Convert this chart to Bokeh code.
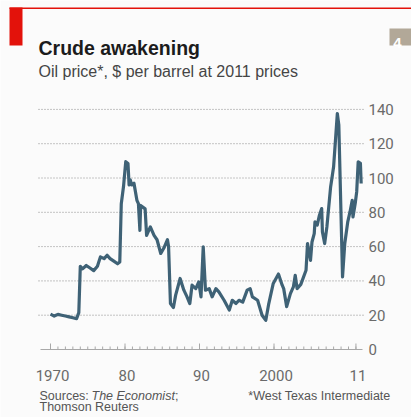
from bokeh.plotting import figure
from bokeh.models import Range1d
from bokeh.core.properties import value
from bokeh.embed import file_html
from bokeh.resources import INLINE

# ---- data ----
years = [1970.0, 1970.5, 1971.0, 1971.5, 1972.0, 1972.5, 1973.0, 1973.5, 1973.8,
         1974.0, 1974.3, 1974.8, 1975.3, 1975.8, 1976.3, 1976.7, 1977.2, 1977.6,
         1978.0, 1978.5, 1979.0, 1979.3, 1979.5, 1979.8, 1980.1, 1980.4, 1980.55,
         1980.7, 1980.9, 1981.2, 1981.6, 1981.8, 1982.0, 1982.1, 1982.7, 1982.9,
         1983.4, 1983.9, 1984.3, 1984.8, 1985.2, 1985.7, 1985.85, 1986.1, 1986.5,
         1986.8, 1987.4, 1987.9, 1988.3, 1988.7, 1989.0, 1989.5, 1989.9, 1990.2,
         1990.5, 1990.8, 1991.3, 1991.7, 1992.2, 1992.6, 1993.3, 1994.0, 1994.4,
         1994.9, 1995.3, 1995.8, 1996.4, 1996.8, 1997.1, 1997.8, 1998.4, 1998.9,
         1999.3, 1999.9, 2000.6, 2001.1, 2001.3, 2001.7, 2002.2, 2002.6, 2002.85,
         2003.1, 2003.6, 2004.3, 2004.5, 2004.9, 2005.1, 2005.4, 2005.5, 2005.8,
         2006.1, 2006.4, 2006.5, 2006.8, 2007.1, 2007.6, 2007.8, 2008.0, 2008.5,
         2008.7, 2009.2, 2009.5, 2009.9, 2010.2, 2010.5, 2010.6, 2010.9, 2011.1,
         2011.3, 2011.6, 2011.7]
prices = [20.6, 19.5, 20.5, 20.0, 19.5, 19.0, 18.5, 18.0, 21.5,
          48.5, 47.0, 49.0, 47.5, 46.0, 48.5, 54.0, 53.0, 55.0,
          53.0, 51.5, 50.0, 51.0, 85.0, 95.0, 109.5, 108.5, 96.0,
          99.0, 96.0, 97.0, 87.0, 85.0, 69.5, 84.0, 82.0, 66.5,
          71.5, 66.5, 64.0, 56.0, 59.0, 64.0, 60.0, 26.8, 24.5,
          31.7, 41.4, 34.6, 31.0, 26.8, 37.5, 35.5, 39.4, 30.7,
          59.8, 34.6, 35.5, 30.7, 35.5, 33.6, 28.7, 23.0, 28.7,
          26.8, 28.7, 27.6, 34.6, 35.5, 30.7, 28.7, 20.0, 17.0,
          26.8, 38.5, 44.0, 37.5, 35.5, 25.0, 32.6, 36.5, 43.3,
          35.5, 38.0, 46.2, 61.8, 52.0, 62.7, 67.6, 74.4, 72.5,
          78.3, 82.2, 68.6, 61.8, 71.5, 94.8, 100.6, 106.5, 137.6,
          131.0, 42.3, 61.8, 74.4, 80.2, 87.0, 77.3, 85.1, 91.9,
          109.4, 108.5, 96.8]

x_ticks = [1970, 1980, 1990, 2000, 2011]
x_tick_labels = ["1970", "80", "90", "2000", "11"]
x_minor_ticks = list(range(1970, 2012))
y_ticks = [0, 20, 40, 60, 80, 100, 120, 140]
y_tick_labels = [str(t) for t in y_ticks]

title_text = "Crude awakening"
subtitle_text = "Oil price*, $ per barrel at 2011 prices"
source_a = "Sources:"
source_b = "The Economist"
source_c = ";"
source_d = "Thomson Reuters"
note_text = "*West Texas Intermediate"
chart_no = "4"

# ---- styles ----
BG = "#fbfbfb"
RED = "#e3120b"
LINE = "#3f6276"
GRID = "#8c8c8c"
AXIS = "#a8a8a8"
TICK_TXT = "#6a6a6a"
FOOT = "#555555"
TICKFONT = "Roboto"
SANS = "Liberation Sans"

W, H = 411, 417
# layout of the chart in page pixels
X0_PX, X_PER_YEAR = 50.0, 7.45      # 1970 sits at x=50, 7.45 px per year
Y0_PX, Y_PER_UNIT = 349.0, 1.715    # $0 sits at y=349, 1.715 px per dollar


def X(px):
    return 1970 + (px - X0_PX) / X_PER_YEAR


def Y(py):
    return (Y0_PX - py) / Y_PER_UNIT


p = figure(width=W, height=H, output_backend="svg", toolbar_location=None,
           x_range=Range1d(X(0), X(W)), y_range=Range1d(Y(H), Y(0)),
           x_axis_location=None, y_axis_location=None,
           min_border=0, min_border_left=0, min_border_right=0,
           min_border_top=0, min_border_bottom=0)
p.background_fill_color = BG
p.border_fill_color = BG
p.outline_line_color = None
p.grid.visible = False


def txt(s, px, py, size, color, font=SANS, style="normal", align="left"):
    p.text(x=[X(px)], y=[Y(py)], text=[s], text_font=value(font), text_font_size=size,
           text_font_style=style, text_color=color, text_align=align,
           text_baseline="alphabetic")


def rect(l, r, t, b, color):
    p.quad(left=[X(l)], right=[X(r)], top=[Y(t)], bottom=[Y(b)],
           fill_color=color, line_color=None)


# ---- header ----
rect(9, W, 7, 8.5, RED)
rect(9, 22, 7, 45, RED)
rect(389, W, 28, 45, "#b2a898")
txt(chart_no, 397, 42, "15px", "white", style="bold", align="center")
txt(title_text, 38, 47, "19.5px", "#1c1c1c", style="bold")
txt(subtitle_text, 38, 71, "16px", "#454545")

# ---- grid (dotted) ----
g = y_ticks[1:]
p.segment(x0=[X(38)] * len(g), x1=[X(365)] * len(g), y0=g, y1=g,
          line_color=GRID, line_dash="1 2", line_width=1)

# ---- x axis: baseline, ticks pointing up, labels ----
p.segment(x0=[X(40)], x1=[X(362)], y0=[0], y1=[0], line_color=AXIS, line_width=1)
p.segment(x0=x_minor_ticks, x1=x_minor_ticks, y0=[0] * len(x_minor_ticks),
          y1=[3 / Y_PER_UNIT] * len(x_minor_ticks), line_color=AXIS, line_width=1)
p.segment(x0=x_ticks, x1=x_ticks, y0=[0] * len(x_ticks),
          y1=[6 / Y_PER_UNIT] * len(x_ticks), line_color=AXIS, line_width=1)
p.text(x=x_ticks, y=[Y(375)] * len(x_ticks), text=x_tick_labels, x_offset=2,
       text_font=value(TICKFONT), text_font_size="15px", text_color=TICK_TXT,
       text_align="center", text_baseline="alphabetic")

# ---- y axis labels on the right ----
p.text(x=[X(368)] * len(y_ticks), y=y_ticks, text=y_tick_labels,
       text_font=value(TICKFONT), text_font_size="15px", text_color=TICK_TXT,
       text_align="left", text_baseline="middle")

# ---- data line ----
p.line(years, prices, line_color=LINE, line_width=3.2, line_join="round")

# ---- footer ----
txt(source_a, 39, 395.5, "12.5px", FOOT)
txt(source_b, 91, 395.5, "12.5px", FOOT, style="italic")
txt(source_c, 174.5, 395.5, "12.5px", FOOT)
txt(source_d, 39, 406, "12.5px", FOOT)
txt(note_text, 390, 395.5, "12.5px", FOOT, align="right")

open("out.html", "w").write(file_html(p, INLINE))
